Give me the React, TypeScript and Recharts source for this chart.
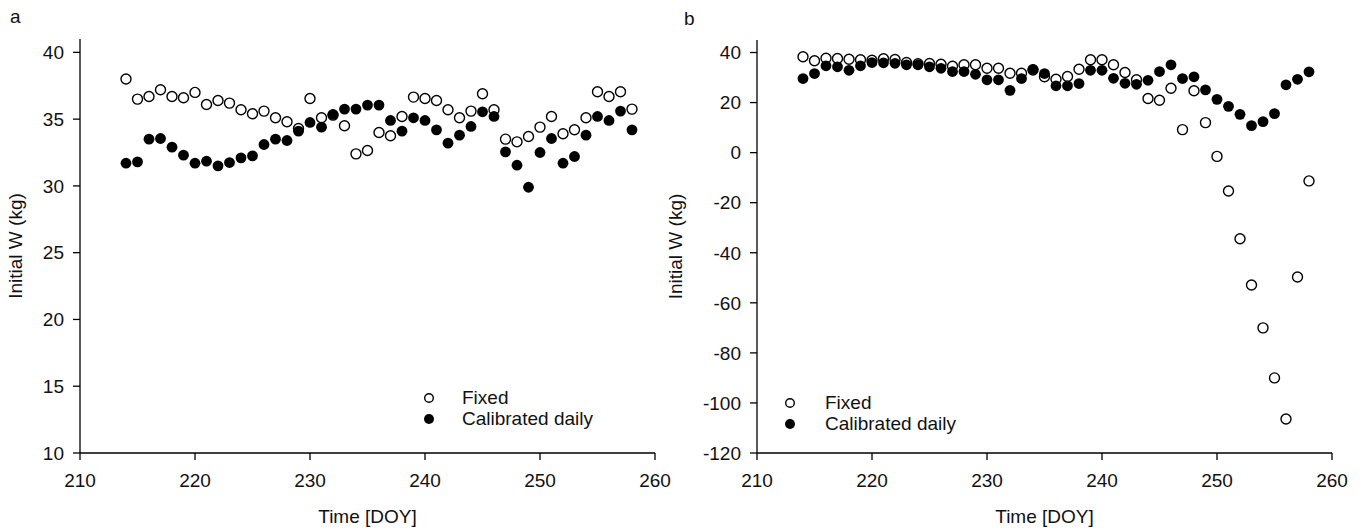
import { ScatterChart, Scatter, XAxis, YAxis, Label } from "recharts";

const days = [
  214, 215, 216, 217, 218, 219, 220, 221, 222, 223, 224, 225, 226, 227, 228,
  229, 230, 231, 232, 233, 234, 235, 236, 237, 238, 239, 240, 241, 242, 243,
  244, 245, 246, 247, 248, 249, 250, 251, 252, 253, 254, 255, 256, 257, 258,
];

// panel a
const fixedA = [
  38.0, 36.5, 36.7, 37.2, 36.7, 36.6, 37.0, 36.1, 36.4, 36.2, 35.7, 35.4, 35.6, 35.1, 34.8,
  34.3, 36.55, 35.1, 35.3, 34.5, 32.4, 32.65, 34.0, 33.75, 35.2, 36.65, 36.55, 36.4, 35.7, 35.1,
  35.6, 36.9, 35.7, 33.5, 33.3, 33.7, 34.4, 35.2, 33.9, 34.2, 35.1, 37.05, 36.7, 37.05, 35.75,
];
const calibA = [
  31.7, 31.8, 33.5, 33.55, 32.9, 32.3, 31.7, 31.85, 31.5, 31.75, 32.1, 32.25, 33.1, 33.5, 33.4,
  34.1, 34.75, 34.4, 35.35, 35.75, 35.75, 36.05, 36.05, 34.9, 34.1, 35.1, 34.9, 34.2, 33.2, 33.8,
  34.45, 35.55, 35.2, 32.55, 31.55, 29.9, 32.5, 33.55, 31.7, 32.2, 33.8, 35.2, 34.9, 35.6, 34.2,
];

// panel b
const fixedB = [
  38.3, 36.7, 37.7, 37.6, 37.3, 37.1, 36.9, 37.5, 37.2, 36.0, 35.5, 35.6, 35.3, 34.5, 35.1,
  35.1, 33.7, 33.7, 31.7, 31.7, 33.0, 30.3, 29.3, 30.4, 33.3, 37.1, 37.1, 35.1, 32.0, 29.1,
  21.6, 20.9, 25.7, 9.2, 24.7, 12.0, -1.5, -15.3, -34.4, -52.9, -70.0, -90.0, -106.4, -49.7, -11.3,
];
const calibB = [
  29.6, 31.6, 34.7, 34.3, 32.9, 34.7, 36.0, 35.9, 35.7, 35.1, 35.1, 34.3, 33.7, 32.4, 32.4,
  31.3, 29.1, 29.1, 24.9, 29.6, 33.3, 31.6, 26.7, 26.7, 27.6, 32.9, 32.9, 29.7, 27.7, 27.3,
  28.9, 32.4, 35.1, 29.6, 30.3, 25.1, 21.3, 18.5, 15.3, 10.8, 12.4, 15.6, 27.1, 29.3, 32.3,
];

const xTicks = [210, 220, 230, 240, 250, 260];
const yTicksA = [10, 15, 20, 25, 30, 35, 40];
const yTicksB = [-120, -100, -80, -60, -40, -20, 0, 20, 40];

const FONT = "'Liberation Sans', Arial, sans-serif";
const INK = "#111";
const tickStyle = { fontSize: 19, fill: INK, fontFamily: FONT };

const toPoints = (vals: number[]) => days.map((d, i) => ({ x: d, y: vals[i] }));

const OpenDot = (p: any) => (
  <circle cx={p.cx} cy={p.cy} r={5} fill="#fff" stroke="#000" strokeWidth={1.4} />
);
const FilledDot = (p: any) => <circle cx={p.cx} cy={p.cy} r={5.4} fill="#000" />;

function LegendBox({ left, top, gap }: { left: number; top: number; gap: number }) {
  const rows = [
    { name: "Fixed", open: true },
    { name: "Calibrated daily", open: false },
  ];
  return (
    <div style={{ position: "absolute", left, top, fontFamily: FONT, fontSize: 19, color: INK }}>
      {rows.map((r) => (
        <div key={r.name} style={{ display: "flex", alignItems: "center", height: 21 }}>
          <svg width={gap} height={14}>
            {r.open ? (
              <circle cx={5} cy={7} r={4.3} fill="#fff" stroke="#000" strokeWidth={1.4} />
            ) : (
              <circle cx={5} cy={7} r={5} fill="#000" />
            )}
          </svg>
          <span>{r.name}</span>
        </div>
      ))}
    </div>
  );
}

const yTitle = (dx: number) => (props: any) => {
  const { x, y, height } = props.viewBox;
  const cx = x + dx;
  const cy = y + height / 2;
  return (
    <text
      x={cx}
      y={cy}
      transform={`rotate(-90 ${cx} ${cy})`}
      textAnchor="middle"
      dominantBaseline="middle"
      style={{ fontSize: 19, fill: INK, fontFamily: FONT }}
    >
      Initial W (kg)
    </text>
  );
};

const xTitle = (props: any) => {
  const { x, y, width } = props.viewBox;
  return (
    <text
      x={x + width / 2}
      y={y + 65}
      textAnchor="middle"
      dominantBaseline="middle"
      style={{ fontSize: 19, fill: INK, fontFamily: FONT }}
    >
      Time [DOY]
    </text>
  );
};

function Panel({
  fixed,
  calib,
  yDomain,
  yTicks,
  yWidth,
  width,
  right,
  top,
}: {
  fixed: number[];
  calib: number[];
  yDomain: [number, number];
  yTicks: number[];
  yWidth: number;
  width: number;
  right: number;
  top: number;
}) {
  return (
    <ScatterChart width={width} height={530} margin={{ top, right, bottom: 39, left: 0 }}>
      <XAxis
        type="number"
        dataKey="x"
        domain={[210, 260]}
        ticks={xTicks}
        height={38}
        tickSize={7}
        tickMargin={14}
        tick={tickStyle}
        axisLine={{ stroke: "#000", strokeWidth: 1.3 }}
        tickLine={{ stroke: "#000", strokeWidth: 1.3 }}
      >
        <Label content={xTitle} />
      </XAxis>
      <YAxis
        type="number"
        dataKey="y"
        domain={yDomain}
        ticks={yTicks}
        width={yWidth}
        tickSize={7}
        tickMargin={9}
        tick={tickStyle}
        axisLine={{ stroke: "#000", strokeWidth: 1.3 }}
        tickLine={{ stroke: "#000", strokeWidth: 1.3 }}
      >
        <Label content={yTitle(17)} />
      </YAxis>
      <Scatter data={toPoints(fixed)} shape={OpenDot} isAnimationActive={false} />
      <Scatter data={toPoints(calib)} shape={FilledDot} isAnimationActive={false} />
    </ScatterChart>
  );
}

export default function App() {
  return (
    <div style={{ position: "absolute", left: 0, top: 0, width: 1367, height: 530, background: "#fff" }}>
      <div style={{ position: "absolute", left: 10, top: 6, fontFamily: FONT, fontSize: 19, color: INK }}>a</div>
      <div style={{ position: "absolute", left: 684, top: 8, fontFamily: FONT, fontSize: 19, color: INK }}>b</div>
      <div style={{ position: "absolute", left: 0, top: 0 }}>
        <Panel
          fixed={fixedA}
          calib={calibA}
          yDomain={[10, 41]}
          yTicks={yTicksA}
          yWidth={80}
          width={683}
          right={28}
          top={39}
        />
      </div>
      <div style={{ position: "absolute", left: 660, top: 0 }}>
        <Panel
          fixed={fixedB}
          calib={calibB}
          yDomain={[-120, 45]}
          yTicks={yTicksB}
          yWidth={97}
          width={707}
          right={35}
          top={40}
        />
      </div>
      <LegendBox left={424} top={387} gap={38} />
      <LegendBox left={785} top={392} gap={40} />
    </div>
  );
}
